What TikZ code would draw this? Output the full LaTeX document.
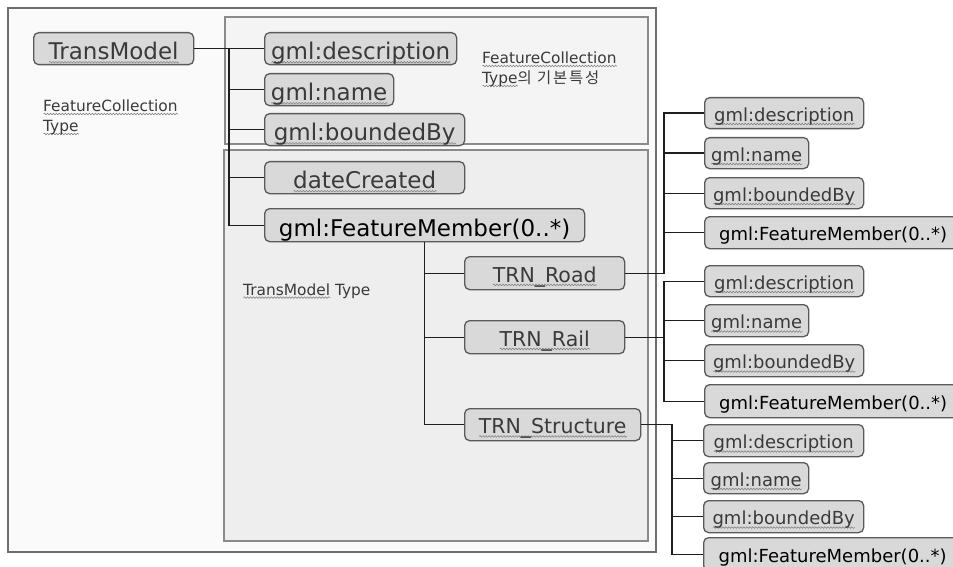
\documentclass[tikz,border=0pt]{standalone}
\usepackage{fontspec}
\setmainfont{DejaVu Sans}
\newfontfamily\krfont[LetterSpace=12]{Noto Sans CJK KR}
\usetikzlibrary{decorations.pathmorphing}

\definecolor{framefill}{HTML}{FAFAFA}
\definecolor{framedraw}{HTML}{6E6E6E}
\definecolor{topfill}{HTML}{F4F4F4}
\definecolor{lowfill}{HTML}{EEEEEE}
\definecolor{paneldraw}{HTML}{8A8A8A}
\definecolor{boxfill}{HTML}{D9D9D9}
\definecolor{boxline}{HTML}{5A5A5A}
\definecolor{txt}{HTML}{3A3A3A}
\definecolor{wire}{HTML}{1E1E1E}
\definecolor{squigcol}{HTML}{858585}

% wavy spell-check style underline under a word
\newlength\squiglen
\newcommand\squig[1]{\settowidth\squiglen{#1}\leavevmode\rlap{\smash{\tikz[baseline=0pt,x=1pt,y=1pt]
  \draw[sharp corners, fill=none, draw=squigcol, line width=0.6pt, decorate,
    decoration={snake, amplitude=0.8pt, segment length=3pt}]
    (0,-2.6) -- (\squiglen,-2.6);}}#1}

\tikzset{
  box/.style={draw=boxline, fill=boxfill, rounded corners=5pt, line width=1.3pt,
    inner sep=0pt, anchor=north west, text=txt},
  lvA/.style={box, font=\fontsize{23}{26}\selectfont, minimum height=32pt,
    text height=22pt, text depth=0pt},
  lvB/.style={box, font=\fontsize{20.5}{24}\selectfont, minimum height=33pt,
    text height=18.4pt, text depth=0pt},
  lvC/.style={box, font=\fontsize{18}{21}\selectfont, minimum height=31pt,
    text height=16.6pt, text depth=0pt},
  member/.style={text=black},
  conn/.style={draw=wire, line width=1.3pt},
  note/.style={inner sep=0pt, text=txt, font=\fontsize{15.4}{20}\selectfont, align=left}
}

\begin{document}
\begin{tikzpicture}[x=1pt,y=-1pt]
\useasboundingbox (0,0) rectangle (953,567);
\fill[white] (0,0) rectangle (953,567);

% panels
\draw[fill=framefill, draw=framedraw, line width=1.3pt] (8,8) rectangle (656,552);
\draw[fill=topfill, draw=paneldraw, line width=1.3pt] (225,17) rectangle (648,144);
\draw[fill=lowfill, draw=paneldraw, line width=1.3pt] (224,150) rectangle (648,541);

% panel captions
\node[note, anchor=north west] (lblfc) at (43,99.5) {\squig{FeatureCollection}\\\squig{Type}};
\node[note, anchor=north west] (lblbase) at (482,51.5) {\squig{FeatureCollection}\\\squig{Type}{\krfont 의 기본특성}};
\node[note, anchor=base west] (lbltm) at (243,295) {\squig{TransModel} Type};

% top level
\node[lvA, minimum width=160pt] (tm) at (33,32) {\squig{TransModel}};
\node[lvA, minimum width=192pt] (gd) at (264,32) {\squig{gml:description}};
\node[lvA, minimum width=129pt] (gn) at (264,73) {\squig{gml:name}};
\node[lvA, minimum width=200pt] (gb) at (264,113) {\squig{gml:boundedBy}};
\node[lvA, minimum width=200pt] (dc) at (264,161) {\squig{dateCreated}};
\node[lvA, member, minimum width=320pt, minimum height=33pt] (fm) at (264,208) {gml:FeatureMember(0..*)};

% feature types
\node[lvB, minimum width=160pt] (rd) at (464,256) {\squig{TRN\_Road}};
\node[lvB, minimum width=160pt] (rl) at (464,320) {\squig{TRN\_Rail}};
\node[lvB, minimum width=176pt, minimum height=32pt] (st) at (464,408) {\squig{TRN\_Structure}};

% road properties
\node[lvC, minimum width=159pt] (d1) at (704,97) {\squig{gml:description}};
\node[lvC, minimum width=104pt] (n1) at (704,137) {\squig{gml:name}};
\node[lvC, minimum width=159pt] (b1) at (704,177) {\squig{gml:boundedBy}};
\node[lvC, member, minimum width=257pt, minimum height=32pt] (f1) at (704,216) {gml:FeatureMember(0..*)};

% rail properties
\node[lvC, minimum width=159pt] (d2) at (704,265) {\squig{gml:description}};
\node[lvC, minimum width=104pt, minimum height=32pt] (n2) at (704,304) {\squig{gml:name}};
\node[lvC, minimum width=159pt, minimum height=32pt] (b2) at (704,344) {\squig{gml:boundedBy}};
\node[lvC, member, minimum width=257pt, minimum height=33pt] (f2) at (704,384) {gml:FeatureMember(0..*)};

% structure properties
\node[lvC, minimum width=160pt, minimum height=32pt] (d3) at (703,424) {\squig{gml:description}};
\node[lvC, minimum width=105pt] (n3) at (703,462) {\squig{gml:name}};
\node[lvC, minimum width=160pt, minimum height=32pt] (b3) at (703,500) {\squig{gml:boundedBy}};
\node[lvC, member, minimum width=258pt, minimum height=33pt] (f3) at (703,537) {gml:FeatureMember(0..*)};

% connectors: collection
\coordinate (t1) at (229,48);
\draw[conn] (tm.east) -- (gd.west);
\draw[conn] (t1) |- (fm.west);
\foreach \n in {gn,gb,dc} \draw[conn] (t1 |- \n.west) -- (\n.west);

% connectors: feature members
\draw[conn] (fm.south) |- (st.west);
\foreach \n in {rd,rl} \draw[conn] (fm.south |- \n.west) -- (\n.west);

% connectors: road
\coordinate (j1) at (664,0);
\draw[conn] (rd.east) -| (j1 |- d1.west) -- (d1.west);
\foreach \n in {n1,b1,f1} \draw[conn] (j1 |- \n.west) -- (\n.west);

% connectors: rail
\coordinate (j2) at (664,0);
\draw[conn] (d2.west) -| (j2 |- f2.west) -- (f2.west);
\draw[conn] (rl.east) -- (rl.east -| j2);
\foreach \n in {n2,b2} \draw[conn] (j2 |- \n.west) -- (\n.west);

% connectors: structure
\coordinate (j3) at (672,0);
\draw[conn] (st.east) -| (j3 |- f3.west) -- (f3.west);
\foreach \n in {d3,n3,b3} \draw[conn] (j3 |- \n.west) -- (\n.west);
\end{tikzpicture}
\end{document}
